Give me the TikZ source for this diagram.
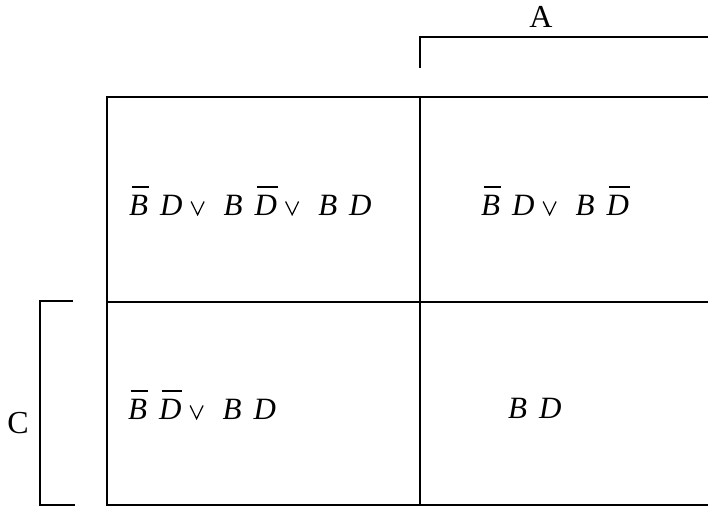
\documentclass[tikz,border=0pt]{standalone}
\usepackage{fontspec}
\setmainfont{Liberation Serif}
\newcommand\ovl[1]{\setbox0\hbox{\itshape #1}\rlap{\hspace{0.08em}\rule[\dimexpr\ht0+0.22em\relax]{\dimexpr\wd0-0.05em\relax}{1.5pt}}\box0}
\newcommand\vv[1]{\textit{#1}}
\newcommand\gl{\hspace{12pt}}
\newcommand\orr{\hspace{8pt}\tikz[baseline=0pt,x=1pt,y=1pt]{\draw[line width=1.2pt,line join=miter] (0,13.5) -- (6.5,0.3) -- (13,13.5);}\hspace{19pt}}
\tikzset{
  grid/.style={line width=2.3pt, black},
  celltext/.style={font=\fontsize{31}{34}\selectfont, anchor=base west, inner sep=0pt},
  lbl/.style={font=\fontsize{32}{34}\selectfont, inner sep=0pt}
}
\begin{document}
\begin{tikzpicture}[x=1pt,y=-1pt]
\useasboundingbox (0,0) rectangle (708,507);
% grid corners
\coordinate (tl) at (107,97);
\coordinate (tm) at (420,97);
\coordinate (tr) at (708,97);
\coordinate (ml) at (107,302);
\coordinate (mr) at (708,302);
\coordinate (bl) at (107,505);
\coordinate (bm) at (420,505);
\coordinate (br) at (708,505);
\draw[grid] (tr) -- (tl) -- (bl) -- (br);
\draw[grid] (ml) -- (mr);
\draw[grid] (tm) -- (bm);
% A bracket
\coordinate (a1) at (420,68);
\coordinate (a2) at (420,37);
\coordinate (a3) at (708,37);
\draw[grid] (a1) -- (a2) -- (a3);
\node[lbl] (A) at (541,17) {A};
% C bracket
\coordinate (c1) at (73,301);
\coordinate (c2) at (40,301);
\coordinate (c3) at (40,505);
\coordinate (c4) at (75,505);
\draw[grid] (c1) -- (c2) -- (c3) -- (c4);
\node[lbl] (C) at (18,423) {C};
% cell texts
\node[celltext] (t1) at (129,215) {\ovl{B}\gl\vv{D}\orr\vv{B}\gl\ovl{D}\orr\vv{B}\gl\vv{D}};
\node[celltext] (t2) at (481,215) {\ovl{B}\gl\vv{D}\orr\vv{B}\gl\ovl{D}};
\node[celltext] (t3) at (128,419) {\ovl{B}\gl\ovl{D}\orr\vv{B}\gl\vv{D}};
\node[celltext] (t4) at (508,418) {\vv{B}\gl\vv{D}};
\end{tikzpicture}
\end{document}
